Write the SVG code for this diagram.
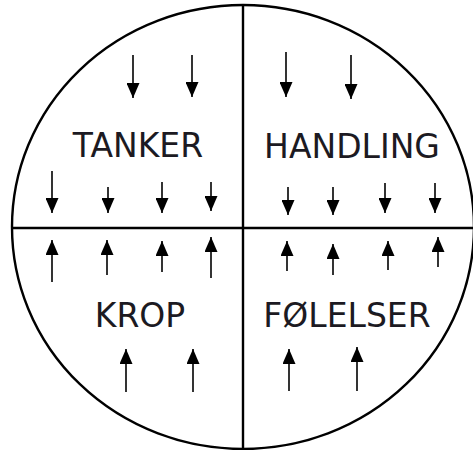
<svg xmlns="http://www.w3.org/2000/svg" width="473" height="450" viewBox="0 0 473 450">
<style>
.frame{fill:none;stroke:#000;stroke-width:2.4}
.arr{stroke:#000;stroke-width:1.6;fill:none}
.lbl{font-family:"DejaVu Sans",Verdana,sans-serif;font-size:33px;fill:#1c1a22;text-anchor:middle}
</style>
<defs>
<marker id="ah" viewBox="0 0 15 13" refX="15" refY="6.5" markerWidth="15" markerHeight="13" markerUnits="userSpaceOnUse" orient="auto">
<path d="M0,0 L15,6.5 L0,13 Z" fill="#000"/>
</marker>
</defs>
<rect width="473" height="450" fill="#fff"/>
<g id="frame">
<ellipse class="frame" cx="243" cy="227" rx="231" ry="222"/>
<line class="frame" x1="243" y1="4" x2="243" y2="449"/>
<line class="frame" x1="12" y1="228" x2="473" y2="228"/>
</g>
<g id="tanker">
<text class="lbl" x="138" y="157">TANKER</text>
</g>
<g id="handling">
<text class="lbl" x="352" y="158">HANDLING</text>
</g>
<g id="krop">
<text class="lbl" x="140" y="327">KROP</text>
</g>
<g id="folelser">
<text class="lbl" x="347" y="327">FØLELSER</text>
</g>
<g id="connectors">
<line class="arr" x1="133" y1="55" x2="133" y2="98" marker-end="url(#ah)"/>
<line class="arr" x1="192" y1="55" x2="192" y2="97" marker-end="url(#ah)"/>
<line class="arr" x1="52" y1="171" x2="52" y2="213" marker-end="url(#ah)"/>
<line class="arr" x1="108" y1="187" x2="108" y2="213" marker-end="url(#ah)"/>
<line class="arr" x1="162" y1="182" x2="162" y2="213" marker-end="url(#ah)"/>
<line class="arr" x1="211" y1="182" x2="211" y2="211" marker-end="url(#ah)"/>
<line class="arr" x1="286" y1="52" x2="286" y2="97" marker-end="url(#ah)"/>
<line class="arr" x1="351" y1="55" x2="351" y2="99" marker-end="url(#ah)"/>
<line class="arr" x1="288" y1="187" x2="288" y2="215" marker-end="url(#ah)"/>
<line class="arr" x1="333" y1="187" x2="333" y2="215" marker-end="url(#ah)"/>
<line class="arr" x1="385" y1="183" x2="385" y2="213" marker-end="url(#ah)"/>
<line class="arr" x1="435" y1="183" x2="435" y2="213" marker-end="url(#ah)"/>
<line class="arr" x1="52" y1="282" x2="52" y2="240" marker-end="url(#ah)"/>
<line class="arr" x1="107" y1="275" x2="107" y2="240" marker-end="url(#ah)"/>
<line class="arr" x1="162" y1="272" x2="162" y2="241" marker-end="url(#ah)"/>
<line class="arr" x1="211" y1="278" x2="211" y2="237" marker-end="url(#ah)"/>
<line class="arr" x1="126" y1="392" x2="126" y2="349" marker-end="url(#ah)"/>
<line class="arr" x1="193" y1="392" x2="193" y2="349" marker-end="url(#ah)"/>
<line class="arr" x1="287" y1="271" x2="287" y2="241" marker-end="url(#ah)"/>
<line class="arr" x1="333" y1="275" x2="333" y2="244" marker-end="url(#ah)"/>
<line class="arr" x1="388" y1="270" x2="388" y2="241" marker-end="url(#ah)"/>
<line class="arr" x1="438" y1="267" x2="438" y2="237" marker-end="url(#ah)"/>
<line class="arr" x1="289" y1="391" x2="289" y2="349" marker-end="url(#ah)"/>
<line class="arr" x1="357" y1="391" x2="357" y2="347" marker-end="url(#ah)"/>
</g>
</svg>
